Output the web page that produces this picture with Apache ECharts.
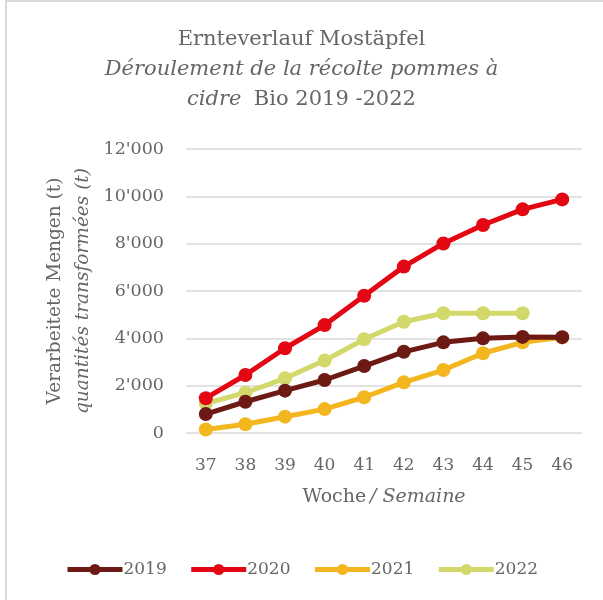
<!DOCTYPE html>
<html>
<head>
<meta charset="utf-8">
<script src="https://cdn.jsdelivr.net/npm/echarts@6/dist/echarts.min.js"></script>
<style>
  html, body { margin: 0; padding: 0; background: #fff; }
  #main { width: 603px; height: 600px; }
  .frame { position: absolute; left: 5px; top: 0; width: 598px; height: 600px;
           border-left: 2px solid #d9d9d9; border-top: 2px solid #d9d9d9; box-sizing: border-box; pointer-events: none; }
</style>
</head>
<body>
<div id="main"></div>
<div class="frame"></div>
<script>
// Kalenderwochen
const weeks = ['37', '38', '39', '40', '41', '42', '43', '44', '45', '46']
// kumulierte Mengen in Tonnen
const y2019 = [800, 1320, 1790, 2240, 2830, 3430, 3830, 4000, 4060, 4050]
const y2020 = [1470, 2450, 3580, 4560, 5800, 7030, 8010, 8790, 9450, 9870]
const y2021 = [150, 370, 690, 1010, 1510, 2140, 2660, 3370, 3830, 4040]
const y2022 = [1250, 1700, 2310, 3060, 3960, 4700, 5060, 5060, 5060]
const yTicks = [0, 2000, 4000, 6000, 8000, 10000, 12000]

const colors = ['#6e1a14', '#e30613', '#f3b61f', '#d2d86a']
const font = 'DejaVu Serif'
const grey = '#666666'

const fmt = v => String(v).replace(/\B(?=(\d{3})+(?!\d))/g, "'")

const mychart = echarts.init(document.getElementById('main'))

const mkSeries = (name, data, i) => ({
  name: name,
  type: 'line',
  data: data,
  symbol: 'circle',
  symbolSize: 14,
  lineStyle: { width: 5, color: colors[i] },
  itemStyle: { color: colors[i] },
  z: 10 - i
})

const option = {
  animation: false,
  textStyle: { fontFamily: font, color: grey },
  title: {
    left: 'center',
    top: 20,
    text: '{n|Ernteverlauf Mostäpfel}\n{i|Déroulement de la récolte pommes à}\n{i|cidre} {n| Bio 2019 -2022}',
    textStyle: {
      fontWeight: 'normal',
      rich: {
        n: { fontFamily: font, fontSize: 21, color: grey, fontWeight: 'normal', lineHeight: 30 },
        i: { fontFamily: font, fontSize: 21, fontStyle: 'italic', fontWeight: 'normal', color: grey, lineHeight: 30 }
      }
    }
  },
  grid: { left: 186, right: 21, top: 149, bottom: 167, containLabel: false },
  legend: {
    bottom: 17,
    left: 'center',
    itemWidth: 55,
    itemHeight: 14,
    itemGap: 22,
    lineStyle: { width: 5 },
    textStyle: { fontFamily: font, fontSize: 17, color: grey, padding: [0, 0, 0, -4] },
    data: ['2019', '2020', '2021', '2022']
  },
  xAxis: {
    type: 'category',
    data: weeks,
    boundaryGap: true,
    axisLine: { show: false },
    axisTick: { show: false },
    axisLabel: { fontFamily: font, fontSize: 17, color: grey, margin: 24 },
    name: '{n|Woche} {i|/ Semaine}',
    nameLocation: 'middle',
    nameGap: 55,
    nameTextStyle: {
      rich: {
        n: { fontFamily: font, fontSize: 19, color: grey },
        i: { fontFamily: font, fontSize: 19, color: grey, fontStyle: 'italic' }
      }
    }
  },
  yAxis: {
    type: 'value',
    min: yTicks[0],
    max: yTicks[yTicks.length - 1],
    interval: 2000,
    axisLine: { show: false },
    axisTick: { show: false },
    splitLine: { lineStyle: { color: '#d9d9d9', width: 1.5 } },
    axisLabel: { fontFamily: font, fontSize: 17.5, color: grey, margin: 22, formatter: fmt },
    name: '{n|Verarbeitete Mengen (t)}\n{i|quantités transformées (t)}',
    nameLocation: 'middle',
    nameRotate: 90,
    nameGap: 88,
    nameTextStyle: {
      align: 'center',
      rich: {
        n: { fontFamily: font, fontSize: 18.5, color: grey, lineHeight: 28 },
        i: { fontFamily: font, fontSize: 18.5, color: grey, fontStyle: 'italic', lineHeight: 28 }
      }
    }
  },
  series: [
    mkSeries('2019', y2019, 0),
    mkSeries('2020', y2020, 1),
    mkSeries('2021', y2021, 2),
    mkSeries('2022', y2022, 3)
  ]
}

mychart.setOption(option)
</script>
</body>
</html>
